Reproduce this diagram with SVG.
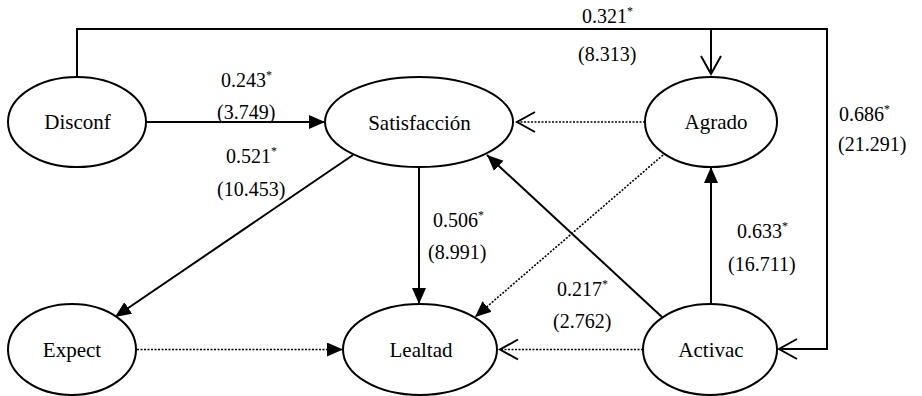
<svg xmlns="http://www.w3.org/2000/svg" width="922" height="396" viewBox="0 0 922 396">
<style>
.node ellipse{fill:#fff;stroke:#000;stroke-width:2}
.node text{font-family:'Liberation Serif','Times New Roman','DejaVu Serif',serif;font-size:21px;text-anchor:middle;fill:#000}
.lbl{font-family:'Liberation Serif','Times New Roman','DejaVu Serif',serif;font-size:20px;fill:#000}
.sup{font-size:12px}
.solid{fill:none;stroke:#000;stroke-width:2}
.dot{fill:none;stroke:#000;stroke-width:1.6;stroke-dasharray:2 1.5}
</style>
<defs>
<marker id="fa" markerUnits="userSpaceOnUse" markerWidth="18" markerHeight="16" refX="16" refY="7" orient="auto">
<path d="M0,0 L16,7 L0,14 z" fill="#000"/>
</marker>
<marker id="oa" markerUnits="userSpaceOnUse" markerWidth="22" markerHeight="24" refX="19" refY="11" orient="auto">
<path d="M1,1 L19,11 L1,21" fill="none" stroke="#000" stroke-width="2"/>
</marker>
</defs>
<rect width="922" height="396" fill="#fff"/>
<g id="connectors">
<path class="solid" d="M77,76 V29 H827 V349 H779" marker-end="url(#oa)"/>
<path class="solid" d="M711,29 V74" marker-end="url(#oa)"/>
<path class="solid" d="M146,122 H325" marker-end="url(#fa)"/>
<path class="solid" d="M353,155 L115,317" marker-end="url(#fa)"/>
<path class="solid" d="M419,167 V304" marker-end="url(#fa)"/>
<path class="dot" d="M645,122 H517" marker-end="url(#oa)"/>
<path class="dot" d="M663,155 L475,317" marker-end="url(#fa)"/>
<path class="solid" d="M662,317 L487,155" marker-end="url(#fa)"/>
<path class="solid" d="M711,304 V167" marker-end="url(#fa)"/>
<path class="dot" d="M137,349.5 H343" marker-end="url(#fa)"/>
<path class="dot" d="M643,349.5 H500" marker-end="url(#oa)"/>
</g>
<g id="node-disconf" class="node"><ellipse cx="77" cy="122" rx="69" ry="45"/><text x="77.5" y="129" font-family="Liberation Serif, DejaVu Serif, serif">Disconf</text></g>
<g id="node-satisfaccion" class="node"><ellipse cx="419" cy="122" rx="94" ry="45"/><text x="419.5" y="130" font-family="Liberation Serif, DejaVu Serif, serif">Satisfacción</text></g>
<g id="node-agrado" class="node"><ellipse cx="711" cy="122" rx="66" ry="45"/><text x="716" y="129" font-family="Liberation Serif, DejaVu Serif, serif">Agrado</text></g>
<g id="node-expect" class="node"><ellipse cx="72" cy="349.5" rx="64" ry="45.5"/><text x="72" y="357" font-family="Liberation Serif, DejaVu Serif, serif">Expect</text></g>
<g id="node-lealtad" class="node"><ellipse cx="420" cy="349.5" rx="77" ry="45.5"/><text x="421" y="357" font-family="Liberation Serif, DejaVu Serif, serif">Lealtad</text></g>
<g id="node-activac" class="node"><ellipse cx="710" cy="349.5" rx="67" ry="45.5"/><text x="711" y="357" font-family="Liberation Serif, DejaVu Serif, serif">Activac</text></g>
<g id="labels" font-family="Liberation Serif, DejaVu Serif, serif">
<text class="lbl" x="221" y="87">0.243<tspan class="sup" dy="-8">*</tspan></text>
<text class="lbl" x="217" y="119">(3.749)</text>
<text class="lbl" x="226" y="163">0.521<tspan class="sup" dy="-8">*</tspan></text>
<text class="lbl" x="217" y="196">(10.453)</text>
<text class="lbl" x="582" y="23">0.321<tspan class="sup" dy="-8">*</tspan></text>
<text class="lbl" x="578" y="61">(8.313)</text>
<text class="lbl" x="839" y="121">0.686<tspan class="sup" dy="-8">*</tspan></text>
<text class="lbl" x="838" y="151">(21.291)</text>
<text class="lbl" x="433" y="227">0.506<tspan class="sup" dy="-8">*</tspan></text>
<text class="lbl" x="428" y="259">(8.991)</text>
<text class="lbl" x="737" y="238">0.633<tspan class="sup" dy="-8">*</tspan></text>
<text class="lbl" x="728" y="271">(16.711)</text>
<text class="lbl" x="557" y="296">0.217<tspan class="sup" dy="-8">*</tspan></text>
<text class="lbl" x="553" y="328">(2.762)</text>
</g>
</svg>
